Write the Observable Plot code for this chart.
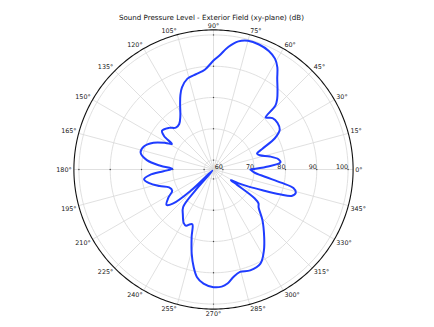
<!DOCTYPE html>
<html><head><meta charset="utf-8">
<script src="https://cdn.jsdelivr.net/npm/d3@7"></script>
<script src="https://cdn.jsdelivr.net/npm/@observablehq/plot@0.6"></script>
<style>body{margin:0;background:#fff}</style>
</head><body><div id="chart"></div>
<script>
const title = "Sound Pressure Level - Exterior Field (xy-plane) (dB)";
const angleDeg = [0,3,6,9,13,17,20,23,27,31,36,41,43.5,45,46,48,51,55,58,61,65,70,75,79,83,87,90,95,100,106,111,114,117,122,127,132,137,143,146,148.5,151,156,162,167,172,176,179,182,185,188,192,197,202,207,212,217,220,223,226,229,231,236,241,244,247,249,252,255.5,258.5,261.3,265,270,274,277,280.5,284.5,290,296.5,302,307,314,320,323,325,327,328.5,331,334,337,339.5,341.5,344.5,347,349,352,356,360];
const levelDb = [68.8,74,78.5,78,75.5,72.5,71.8,74,79,81.7,82.3,82,81,80.5,85.5,87.4,89.5,92.5,95.5,97.5,98.8,99.5,99.6,98.7,96.5,93.5,91.8,89,88,87.2,85.1,83,80.5,77,75.2,75,76.5,77.6,76,72.6,74.5,78,80.5,80.9,78.5,74,70.2,73,77.5,79.4,78,75,72.3,71.8,74,75.8,74,67,57.5,66,72.4,74.5,76.6,77,76,75.8,79.6,84.8,88.8,91.8,93.6,94.6,94.5,93.7,91.9,90.8,91.3,90.6,87.4,83.9,79.5,75.8,75,73,66,63.5,66,69.5,74,79.5,83.5,84.3,83.2,79,73.6,70,68.8];
const ringLevels = [60, 70, 80, 90, 100];
const ringLabels = ["60", "70", "80", "90", "100"];
const thetaTicks = d3.range(0, 360, 15);
const thetaLabels = thetaTicks.map(a => a + "°");

const rMin = 57, rMax = 101.6, labelLevel = 102.3;
const R = rMax - rMin;
const rad = a => a * Math.PI / 180;
const px = (v, a) => (v - rMin) * Math.cos(rad(a));
const py = (v, a) => (v - rMin) * Math.sin(rad(a));

const curveData = angleDeg.map((a, i) => ({a, v: levelDb[i]}));
const ringPts = ringLevels.flatMap(v => d3.range(0, 361, 2).map(a => ({v, a})));
const spinePts = d3.range(0, 361, 1).map(a => ({v: rMax, a}));
const tickPts = ringLevels.flatMap(v => [0, 90, 180, 270].map(a => ({v, a})));
const spokes = thetaTicks.map(a => ({a}));

const thetaMarks = thetaTicks.map((a, i) => {
  const c = Math.cos(rad(a)), s = Math.sin(rad(a));
  return Plot.text([{a, t: thetaLabels[i]}], {
    x: d => px(labelLevel, d.a), y: d => py(labelLevel, d.a), text: "t",
    textAnchor: c > 0.01 ? "start" : c < -0.01 ? "end" : "middle",
    lineAnchor: s > 0.01 ? "bottom" : s < -0.01 ? "top" : "middle",
    fill: "#222"
  });
});

const chart = Plot.plot({
  width: 434, height: 327,
  marginLeft: 73.4, marginRight: 81.4, marginTop: 29.4, marginBottom: 18.4,
  x: {domain: [-R, R], axis: null},
  y: {domain: [-R, R], axis: null},
  style: {fontFamily: "DejaVu Sans", fontSize: "6.4px", background: "white", overflow: "visible"},
  marks: [
    Plot.link(spokes, {x1: 0, y1: 0, x2: d => px(rMax, d.a), y2: d => py(rMax, d.a), stroke: "#d8d8d8", strokeWidth: 0.8}),
    Plot.line(ringPts, {x: d => px(d.v, d.a), y: d => py(d.v, d.a), z: "v", stroke: "#d8d8d8", strokeWidth: 0.8}),
    Plot.line(spinePts, {x: d => px(d.v, d.a), y: d => py(d.v, d.a), stroke: "#111", strokeWidth: 1.1}),
    Plot.dot(tickPts, {x: d => px(d.v, d.a), y: d => py(d.v, d.a), r: 0.7, fill: "#444"}),
    Plot.text(ringLevels.map((v, i) => ({v, t: ringLabels[i]})), {x: d => px(d.v, 0), y: 0, text: "t", textAnchor: "end", lineAnchor: "bottom", dy: -0.5, fill: "#222"}),
    Plot.line(curveData, {x: d => px(d.v, d.a), y: d => py(d.v, d.a), stroke: "#1f3cff", strokeWidth: 2, curve: "catmull-rom"}),
    ...thetaMarks,
    Plot.text([title], {frameAnchor: "top", dy: -14.5, dx: -2, fontSize: 7.1, fill: "#111"})
  ]
});
document.getElementById("chart").append(chart);
</script>
</body></html>
